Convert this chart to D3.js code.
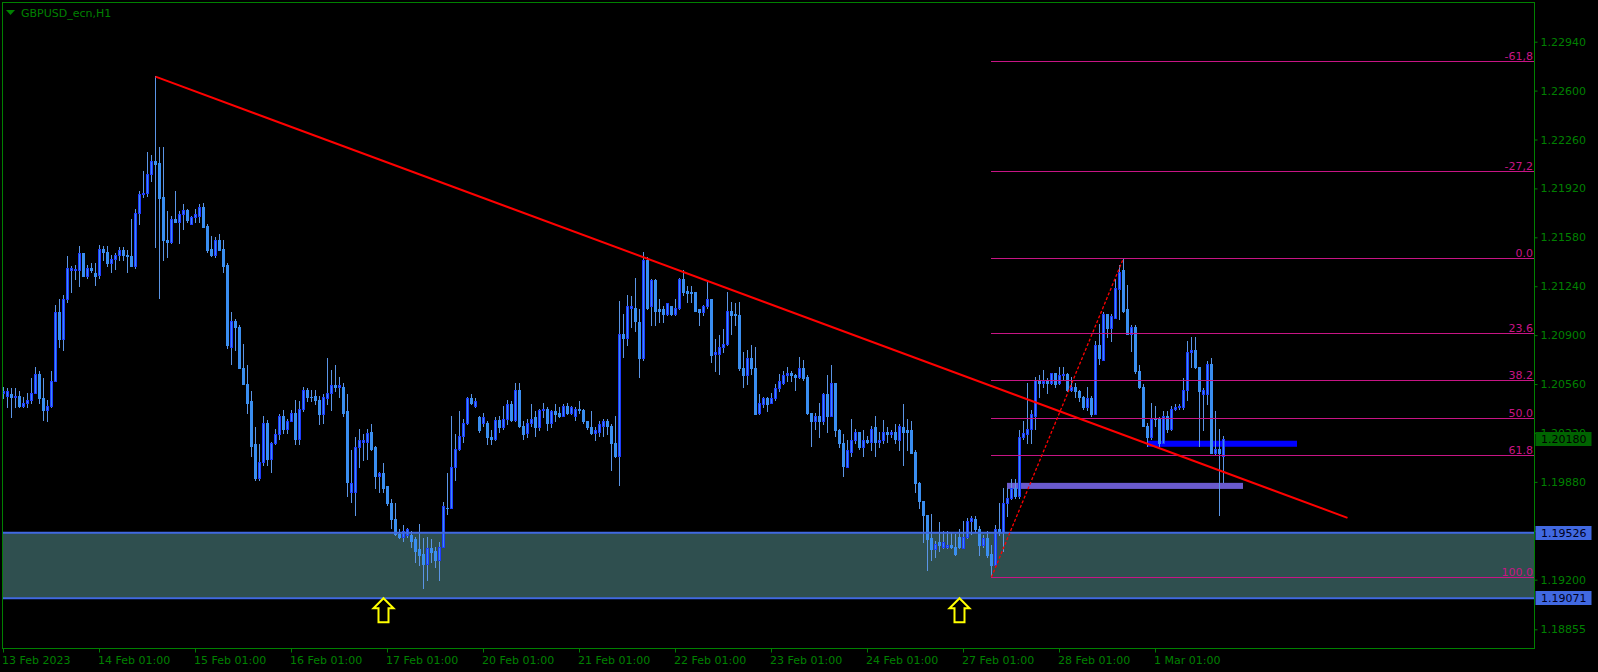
<!DOCTYPE html>
<html><head><meta charset="utf-8">
<script src="https://cdn.jsdelivr.net/npm/d3@7"></script>
<style>
html,body{margin:0;padding:0;background:#000;overflow:hidden;}
svg{display:block;}
text{font-family:"DejaVu Sans",sans-serif;font-size:11px;}
</style></head><body>
<svg id="c" width="1598" height="672"></svg>
<script>
const symbolTitle = "GBPUSD_ecn,H1";
const open = [
1.2050,1.2048,1.2049,1.2047,1.2048,1.2041,1.2043,1.2045,1.2050,1.2063,
1.2046,1.2038,1.2041,1.2058,1.2106,1.2087,1.2115,1.2135,1.2135,1.2135,
1.2147,1.2131,1.2137,1.2133,1.2132,1.2150,1.2148,1.2140,1.2143,1.2146,
1.2149,1.2146,1.2145,1.2138,1.2175,1.2188,1.2189,1.2202,1.2211,1.2210,
1.2186,1.2156,1.2155,1.2171,1.2169,1.2174,1.2177,1.2167,1.2172,1.2173,
1.2179,1.2166,1.2150,1.2146,1.2156,1.2150,1.2139,1.2082,1.2100,1.2096,
1.2067,1.2056,1.2044,1.2014,1.1991,1.2002,1.2029,1.2004,1.2015,1.2021,
1.2034,1.2025,1.2030,1.2036,1.2018,1.2039,1.2052,1.2047,1.2048,1.2045,
1.2035,1.2046,1.2050,1.2055,1.2054,1.2054,1.2037,1.1981,1.1981,1.2012,
1.2016,1.2016,1.2023,1.2012,1.1992,1.1994,1.1985,1.1973,1.1962,1.1952,
1.1950,1.1951,1.1951,1.1948,1.1941,1.1938,1.1931,1.1942,1.1940,1.1934,
1.1943,1.1970,1.1970,1.1998,1.2011,1.2020,1.2029,1.2046,1.2041,1.2033,
1.2029,1.2029,1.2019,1.2018,1.2031,1.2026,1.2032,1.2042,1.2031,1.2052,
1.2027,1.2022,1.2029,1.2033,1.2026,1.2038,1.2039,1.2029,1.2037,1.2036,
1.2034,1.2041,1.2036,1.2034,1.2039,1.2038,1.2030,1.2026,1.2022,1.2023,
1.2027,1.2030,1.2027,1.2015,1.2006,1.2091,1.2088,1.2109,1.2109,1.2099,
1.2074,1.2142,1.2110,1.2128,1.2108,1.2108,1.2105,1.2110,1.2105,1.2109,
1.2129,1.2121,1.2120,1.2120,1.2108,1.2106,1.2110,1.2115,1.2077,1.2077,
1.2082,1.2084,1.2107,1.2105,1.2104,1.2067,1.2062,1.2074,1.2067,1.2036,
1.2042,1.2046,1.2043,1.2046,1.2053,1.2057,1.2062,1.2064,1.2062,1.2061,
1.2067,1.2061,1.2036,1.2030,1.2034,1.2030,1.2049,1.2034,1.2057,1.2024,
1.2015,1.1998,1.2009,1.2017,1.2023,1.2012,1.2017,1.2016,1.2026,1.2016,
1.2017,1.2023,1.2021,1.2023,1.2017,1.2026,1.2024,1.2024,1.2009,1.1987,
1.1975,1.1965,1.1949,1.1941,1.1946,1.1943,1.1943,1.1944,1.1943,1.1950,
1.1942,1.1950,1.1961,1.1962,1.1955,1.1944,1.1949,1.1938,1.1930,1.1955,
1.1953,1.1973,1.1977,1.1984,1.1978,1.2019,1.2021,1.2025,1.2034,1.2059,
1.2057,1.2058,1.2057,1.2064,1.2057,1.2062,1.2063,1.2052,1.2054,1.2051,
1.2047,1.2040,1.2046,1.2035,1.2083,1.2073,1.2105,1.2095,1.2102,1.2122,
1.2135,1.2108,1.2091,1.2096,1.2065,1.2054,1.2027,1.2019,1.2032,1.2032,
1.2015,1.2034,1.2025,1.2039,1.2040,1.2040,1.2052,1.2078,1.2080,1.2068,
1.2049,1.2049,1.2070,1.2008,1.2011,1.2006];
const high = [
1.2054,1.2053,1.2053,1.2053,1.2051,1.2047,1.2050,1.2060,1.2068,1.2065,
1.2060,1.2045,1.2065,1.2111,1.2115,1.2118,1.2145,1.2138,1.2139,1.2152,
1.2147,1.2139,1.2140,1.2140,1.2153,1.2152,1.2152,1.2146,1.2147,1.2151,
1.2151,1.2149,1.2171,1.2178,1.2190,1.2204,1.2217,1.2215,1.2270,1.2221,
1.2221,1.2176,1.2173,1.2190,1.2176,1.2181,1.2178,1.2173,1.2178,1.2181,
1.2182,1.2167,1.2159,1.2158,1.2160,1.2156,1.2140,1.2106,1.2101,1.2097,
1.2084,1.2069,1.2051,1.2026,1.2014,1.2034,1.2031,1.2016,1.2025,1.2035,
1.2038,1.2032,1.2038,1.2045,1.2044,1.2054,1.2053,1.2052,1.2052,1.2048,
1.2049,1.2074,1.2066,1.2069,1.2061,1.2057,1.2049,1.2010,1.2019,1.2025,
1.2021,1.2025,1.2028,1.2013,1.1995,1.2001,1.1985,1.1976,1.1973,1.1955,
1.1958,1.1956,1.1954,1.1950,1.1959,1.1949,1.1950,1.1948,1.1943,1.1946,
1.1974,1.1994,1.2034,1.2021,1.2037,1.2032,1.2047,1.2049,1.2046,1.2034,
1.2036,1.2030,1.2024,1.2033,1.2034,1.2041,1.2045,1.2044,1.2057,1.2057,
1.2030,1.2032,1.2042,1.2037,1.2039,1.2043,1.2040,1.2038,1.2042,1.2040,
1.2042,1.2043,1.2041,1.2040,1.2044,1.2039,1.2030,1.2037,1.2026,1.2030,
1.2032,1.2032,1.2028,1.2034,1.2114,1.2105,1.2118,1.2117,1.2130,1.2108,
1.2148,1.2144,1.2129,1.2129,1.2115,1.2110,1.2112,1.2110,1.2115,1.2130,
1.2135,1.2124,1.2124,1.2120,1.2108,1.2111,1.2127,1.2115,1.2087,1.2090,
1.2094,1.2120,1.2113,1.2112,1.2113,1.2078,1.2080,1.2083,1.2082,1.2049,
1.2047,1.2047,1.2050,1.2056,1.2063,1.2065,1.2068,1.2065,1.2063,1.2075,
1.2073,1.2062,1.2036,1.2036,1.2043,1.2050,1.2062,1.2069,1.2057,1.2025,
1.2021,1.2017,1.2032,1.2025,1.2023,1.2024,1.2020,1.2027,1.2034,1.2023,
1.2031,1.2026,1.2024,1.2028,1.2028,1.2042,1.2032,1.2030,1.2010,1.1988,
1.1975,1.1965,1.1966,1.1947,1.1960,1.1954,1.1954,1.1953,1.1952,1.1955,
1.1961,1.1963,1.1964,1.1964,1.1957,1.1951,1.1954,1.1944,1.1958,1.1973,
1.1984,1.1984,1.1990,1.1990,1.2024,1.2030,1.2057,1.2038,1.2061,1.2062,
1.2066,1.2060,1.2064,1.2064,1.2068,1.2068,1.2064,1.2061,1.2057,1.2052,
1.2048,1.2054,1.2048,1.2086,1.2098,1.2106,1.2105,1.2105,1.2129,1.2139,
1.21435,1.2125,1.2097,1.2097,1.2069,1.2056,1.2029,1.2043,1.2041,1.2033,
1.2037,1.2037,1.2041,1.2042,1.2042,1.2060,1.2086,1.2089,1.2089,1.2068,
1.2053,1.2072,1.2074,1.2037,1.2025,1.2020];
const low = [
1.2046,1.2040,1.2033,1.2040,1.2040,1.2040,1.2040,1.2043,1.2050,1.2043,
1.2031,1.2030,1.2040,1.2058,1.2082,1.2080,1.2113,1.2120,1.2129,1.2124,
1.2131,1.2130,1.2134,1.2125,1.2130,1.2142,1.2138,1.2134,1.2136,1.2142,
1.2142,1.2134,1.2138,1.2137,1.2167,1.2186,1.2187,1.2197,1.2151,1.2116,
1.2142,1.2144,1.2154,1.2169,1.2154,1.2164,1.2169,1.2167,1.2169,1.2169,
1.2165,1.2148,1.2145,1.2144,1.2149,1.2134,1.2081,1.2070,1.2080,1.2067,
1.2056,1.2036,1.2006,1.1989,1.1989,1.2000,1.2000,1.1995,1.2014,1.2018,
1.2022,1.2022,1.2030,1.2014,1.2014,1.2037,1.2044,1.2044,1.2042,1.2028,
1.2029,1.2042,1.2038,1.2051,1.2047,1.2034,1.1978,1.1974,1.1965,1.1998,
1.2003,1.2004,1.2010,1.1984,1.1981,1.1981,1.1972,1.1956,1.1951,1.1949,
1.1947,1.1950,1.1943,1.1932,1.1930,1.1914,1.1920,1.1932,1.1929,1.1920,
1.1943,1.1966,1.1970,1.1989,1.2010,1.2016,1.2028,1.2042,1.2040,1.2023,
1.2027,1.2014,1.2014,1.2017,1.2023,1.2025,1.2028,1.2030,1.2030,1.2026,
1.2018,1.2019,1.2027,1.2020,1.2024,1.2033,1.2024,1.2026,1.2030,1.2033,
1.2034,1.2035,1.2035,1.2031,1.2036,1.2029,1.2025,1.2021,1.2017,1.2020,
1.2020,1.2021,1.1996,1.2005,1.1986,1.2075,1.2083,1.2096,1.2093,1.2061,
1.2073,1.2108,1.2097,1.2097,1.2099,1.2099,1.2104,1.2104,1.2104,1.2108,
1.2118,1.2113,1.2113,1.2107,1.2097,1.2104,1.2109,1.2071,1.2065,1.2063,
1.2078,1.2083,1.2091,1.2097,1.2066,1.2054,1.2056,1.2063,1.2035,1.2035,
1.2040,1.2037,1.2043,1.2045,1.2051,1.2056,1.2058,1.2058,1.2052,1.2060,
1.2059,1.2035,1.2013,1.2025,1.2019,1.2028,1.2023,1.2034,1.2020,1.2012,
1.1992,1.1998,1.2006,1.2015,1.2011,1.2006,1.2015,1.2010,1.2006,1.2012,
1.2015,1.2016,1.2019,1.2015,1.2010,1.2000,1.2010,1.2008,1.1981,1.1970,
1.1946,1.1927,1.1934,1.1936,1.1940,1.1942,1.1942,1.1942,1.1937,1.1942,
1.1942,1.1949,1.1952,1.1954,1.1937,1.1943,1.1936,1.19218,1.1930,1.1951,
1.1940,1.1964,1.1976,1.1977,1.1977,1.2018,1.2015,1.2015,1.2025,1.2047,
1.2054,1.2050,1.2056,1.2054,1.2056,1.2059,1.2051,1.2051,1.2047,1.2044,
1.2039,1.2038,1.2034,1.2035,1.2070,1.2073,1.2089,1.2086,1.2102,1.2101,
1.2106,1.2091,1.2079,1.2064,1.2053,1.2027,1.2013,1.2018,1.2027,1.2013,
1.2015,1.2023,1.2024,1.2038,1.2039,1.2039,1.2045,1.2068,1.2067,1.2013,
1.2024,1.2042,1.2008,1.2007,1.1965,1.1988];
const close = [
1.2051,1.2051,1.2047,1.2048,1.2041,1.2043,1.2045,1.2050,1.2063,1.2046,
1.2038,1.2041,1.2058,1.2106,1.2087,1.2115,1.2137,1.2137,1.2136,1.2147,
1.2131,1.2137,1.2135,1.2131,1.2150,1.2148,1.2140,1.2143,1.2146,1.2149,
1.2146,1.2145,1.2138,1.2175,1.2188,1.2189,1.2202,1.2211,1.2209,1.2185,
1.2156,1.2155,1.2171,1.2169,1.2174,1.2177,1.2170,1.2172,1.2174,1.2179,
1.2165,1.2149,1.2146,1.2156,1.2149,1.2138,1.2083,1.2100,1.2096,1.2067,
1.2056,1.2043,1.2013,1.1991,1.2002,1.2029,1.2004,1.2015,1.2021,1.2034,
1.2025,1.2030,1.2036,1.2018,1.2039,1.2052,1.2047,1.2047,1.2045,1.2035,
1.2047,1.2050,1.2055,1.2054,1.2055,1.2036,1.1988,1.1987,1.2012,1.2017,
1.2017,1.2022,1.2011,1.1992,1.1994,1.1984,1.1973,1.1962,1.1952,1.1950,
1.1954,1.1955,1.1947,1.1940,1.1937,1.1931,1.1942,1.1939,1.1934,1.1943,
1.1971,1.1970,1.1998,1.2011,1.2020,1.2029,1.2046,1.2043,1.2044,1.2024,
1.2033,1.2019,1.2018,1.2031,1.2026,1.2032,1.2042,1.2031,1.2052,1.2027,
1.2021,1.2029,1.2032,1.2026,1.2038,1.2039,1.2029,1.2037,1.2035,1.2034,
1.2041,1.2036,1.2040,1.2039,1.2038,1.2030,1.2026,1.2022,1.2024,1.2028,
1.2030,1.2027,1.2015,1.2006,1.2091,1.2088,1.2110,1.2110,1.2100,1.2074,
1.2142,1.2109,1.2128,1.2107,1.2107,1.2105,1.2112,1.2105,1.2109,1.2129,
1.2120,1.2119,1.2119,1.2107,1.2106,1.2110,1.2115,1.2076,1.2078,1.2082,
1.2084,1.2107,1.2104,1.2104,1.2067,1.2062,1.2074,1.2067,1.2035,1.2043,
1.2046,1.2042,1.2046,1.2053,1.2058,1.2062,1.2064,1.2062,1.2061,1.2067,
1.2060,1.2036,1.2030,1.2034,1.2030,1.2049,1.2034,1.2057,1.2024,1.2015,
1.1999,1.2010,1.2017,1.2023,1.2012,1.2017,1.2016,1.2025,1.2016,1.2017,
1.2023,1.2021,1.2023,1.2018,1.2027,1.2023,1.2023,1.2008,1.1987,1.1975,
1.1965,1.1948,1.1941,1.1945,1.1944,1.1946,1.1944,1.1943,1.1938,1.1943,
1.1950,1.1961,1.1963,1.1955,1.1944,1.1949,1.1937,1.1930,1.1955,1.1953,
1.1973,1.1977,1.1984,1.1978,1.2019,1.2022,1.2025,1.2035,1.2059,1.2057,
1.2058,1.2057,1.2064,1.2056,1.2062,1.2063,1.2052,1.2054,1.2051,1.2047,
1.2040,1.2046,1.2035,1.2083,1.2074,1.2105,1.2095,1.2103,1.2123,1.2134,
1.2107,1.2091,1.2096,1.2065,1.2054,1.2027,1.2019,1.2032,1.2032,1.2015,
1.2034,1.2025,1.2039,1.2040,1.2041,1.2052,1.2078,1.2080,1.2068,1.2051,
1.2052,1.2070,1.2008,1.2011,1.2008,1.2018];

const xTickLabels = ["13 Feb 2023","14 Feb 01:00","15 Feb 01:00","16 Feb 01:00","17 Feb 01:00",
  "20 Feb 01:00","21 Feb 01:00","22 Feb 01:00","23 Feb 01:00","24 Feb 01:00",
  "27 Feb 01:00","28 Feb 01:00","1 Mar 01:00"];
const barsPerLabel = 24;
const yTickValues = [1.22940,1.22600,1.22260,1.21920,1.21580,1.21240,1.20900,1.20560,1.20220,1.19880,1.19540,1.19200,1.18855];
const fibLevels = [-61.8,-27.2,0,23.6,38.2,50,61.8,100];
const fibLabels = ["-61,8","-27,2","0.0","23.6","38.2","50.0","61.8","100.0"];
const fibLowBar = 247, fibLowPrice = 1.19218, fibHighBar = 280, fibHighPrice = 1.21435;
const trendBars = [38, 336], trendPrices = [1.22697, 1.19630];
const zonePrices = [1.19526, 1.19071];
const slateRectBars = [251, 310], slateRectPrices = [1.19873, 1.19831];
const blueRectBars = [286, 323.5], blueRectPrices = [1.20166, 1.20124];
const arrowBars = [95, 239], arrowPrice = 1.19071;
const bidPrice = 1.20180;

// ---- layout ----
const W = 1598, H = 672;
const L = 2.5, R = 1534.5, T = 2.5, B = 648.5;
const GREEN = "#008000";
const svg = d3.select("#c");
svg.append("rect").attr("width", W).attr("height", H).attr("fill", "#000");

const x = d3.scaleLinear().domain([0, 305]).range([3.5, 3.5 + 305 * 4]);
const y = d3.scaleLinear().domain([1.18855, 1.22940]).range([629.3, 41.7]);

svg.append("defs").append("clipPath").attr("id", "plot")
  .append("rect").attr("x", L).attr("y", T).attr("width", R - L).attr("height", B - T);
const g = svg.append("g").attr("clip-path", "url(#plot)");

// zone fill
g.append("rect").attr("x", L).attr("width", R - L)
  .attr("y", y(zonePrices[0])).attr("height", y(zonePrices[1]) - y(zonePrices[0]))
  .attr("fill", "#2f4f4f");
// rectangles (background)
g.append("rect").attr("x", x(slateRectBars[0]) - 0.5).attr("width", x(slateRectBars[1]) - x(slateRectBars[0]))
  .attr("y", y(slateRectPrices[0])).attr("height", y(slateRectPrices[1]) - y(slateRectPrices[0]))
  .attr("fill", "#6a5acd");
g.append("rect").attr("x", x(blueRectBars[0]) - 0.5).attr("width", x(blueRectBars[1]) - x(blueRectBars[0]))
  .attr("y", y(blueRectPrices[0])).attr("height", y(blueRectPrices[1]) - y(blueRectPrices[0]))
  .attr("fill", "#0000ff");

// candles
const WICK = "#5b95e6", BODY = "#3a8ef0", BULLEDGE = "#1f3cff";
const idx = d3.range(open.length);
const cg = g.append("g");
cg.selectAll("rect.w").data(idx).join("rect").attr("class", "w")
  .attr("x", i => x(i) - 0.5).attr("width", 1)
  .attr("y", i => Math.round(y(high[i])))
  .attr("height", i => Math.max(1, Math.round(y(low[i])) - Math.round(y(high[i])) + 1))
  .attr("fill", WICK);
cg.selectAll("rect.b").data(idx).join("rect").attr("class", "b")
  .attr("x", i => x(i) - 1.5).attr("width", 3)
  .attr("y", i => Math.round(y(Math.max(open[i], close[i]))))
  .attr("height", i => Math.max(1, Math.round(y(Math.min(open[i], close[i]))) - Math.round(y(Math.max(open[i], close[i]))) + 1))
  .attr("fill", i => close[i] > open[i] ? BULLEDGE : BODY);
cg.selectAll("rect.i").data(idx.filter(i => close[i] > open[i])).join("rect").attr("class", "i")
  .attr("x", i => x(i) - 0.5).attr("width", 1)
  .attr("y", i => Math.round(y(close[i])) + 1)
  .attr("height", i => Math.max(0, Math.round(y(open[i])) - Math.round(y(close[i])) - 1))
  .attr("fill", BODY);

// zone lines
zonePrices.forEach(p => {
  g.append("line").attr("x1", L).attr("x2", R).attr("y1", y(p)).attr("y2", y(p))
    .attr("stroke", "#4169e1").attr("stroke-width", 2);
});

// fibonacci
const fibRange = fibHighPrice - fibLowPrice;
const fibPrice = lv => fibHighPrice - lv / 100 * fibRange;
g.selectAll("line.fib").data(fibLevels).join("line").attr("class", "fib")
  .attr("x1", x(fibLowBar) - 0.5).attr("x2", R)
  .attr("y1", d => Math.round(y(fibPrice(d))) + 0.5).attr("y2", d => Math.round(y(fibPrice(d))) + 0.5)
  .attr("stroke", "#c71585").attr("stroke-width", 1);
g.selectAll("text.fib").data(fibLevels).join("text").attr("class", "fib")
  .attr("x", R - 1.5).attr("y", d => Math.round(y(fibPrice(d))) - 1.5)
  .attr("text-anchor", "end").attr("fill", "#c71585")
  .text((d, i) => fibLabels[i]);
g.append("line").attr("x1", x(fibLowBar)).attr("y1", y(fibLowPrice))
  .attr("x2", x(fibHighBar)).attr("y2", y(fibHighPrice))
  .attr("stroke", "#ff0000").attr("stroke-width", 1.3).attr("stroke-dasharray", "3,2");

// trend line
g.append("line").attr("x1", x(trendBars[0])).attr("y1", y(trendPrices[0]))
  .attr("x2", x(trendBars[1])).attr("y2", y(trendPrices[1]))
  .attr("stroke", "#ff0000").attr("stroke-width", 2);

// arrows
arrowBars.forEach(b => {
  const cx = x(b), ty = y(arrowPrice);
  const pts = [[0,0],[10,10],[5,10],[5,24],[-5,24],[-5,10],[-10,10]];
  g.append("path").attr("d", "M" + pts.map(p => (cx + p[0]) + "," + (ty + p[1])).join("L") + "Z")
    .attr("fill", "#000").attr("stroke", "#ffff00").attr("stroke-width", 2).attr("stroke-linejoin", "miter");
});

// frame
svg.append("rect").attr("x", L).attr("y", T).attr("width", R - L).attr("height", B - T)
  .attr("fill", "none").attr("stroke", GREEN).attr("stroke-width", 1);

// title
svg.append("path").attr("d", "M6,10L15,10L10.5,15Z").attr("fill", GREEN);
svg.append("text").attr("x", 21).attr("y", 17).attr("fill", GREEN).text(symbolTitle);

// right axis
const ya = svg.append("g").attr("transform", `translate(${R},0)`)
  .call(d3.axisRight(y).tickValues(yTickValues).tickFormat(d3.format(".5f")).tickSize(3).tickPadding(3));
ya.select(".domain").remove();
ya.selectAll("line").attr("stroke", GREEN);
ya.selectAll("text").attr("fill", GREEN).attr("font-family", "DejaVu Sans").attr("font-size", 11);

// bottom axis
const xa = svg.append("g");
xTickLabels.forEach((lab, i) => {
  const bx = x(i * barsPerLabel);
  xa.append("line").attr("x1", bx).attr("x2", bx).attr("y1", B).attr("y2", B + 4).attr("stroke", GREEN);
  xa.append("text").attr("x", bx - 1.5).attr("y", 664).attr("fill", GREEN).text(lab);
});

// price labels
function priceBox(p, bg, fg) {
  const cy = y(p);
  svg.append("rect").attr("x", R + 1).attr("y", Math.round(cy) - 7).attr("width", 56).attr("height", 14).attr("fill", bg);
  svg.append("text").attr("x", 1541).attr("y", cy).attr("dy", "0.35em").attr("fill", fg).text(d3.format(".5f")(p));
}
priceBox(bidPrice, "#006400", "#000000");
zonePrices.forEach(p => priceBox(p, "#4169e1", "#000020"));
</script></body></html>
